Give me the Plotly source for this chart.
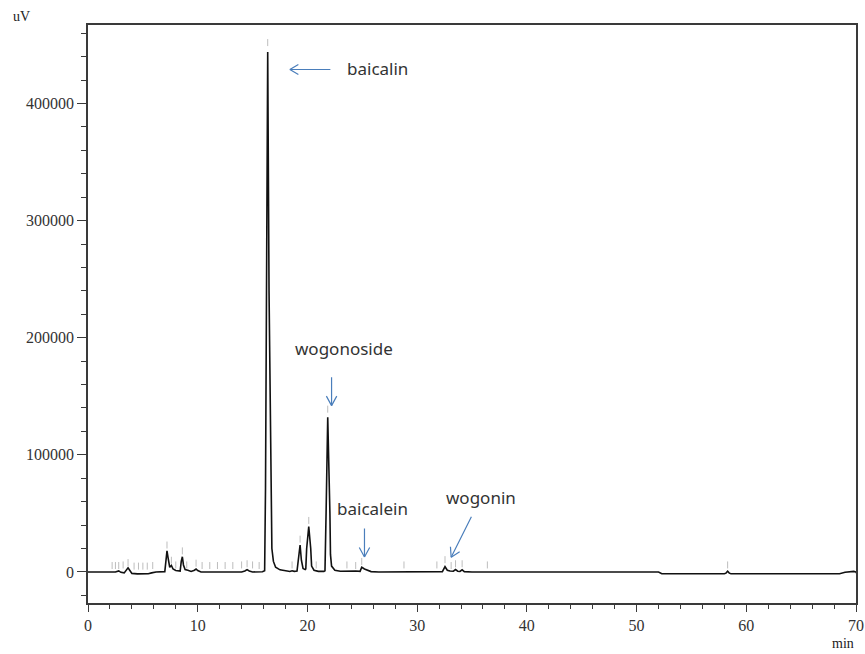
import plotly.graph_objects as go

# Chromatogram trace (retention time in min, detector signal in uV)
time_min = [
    0.0, 2.0, 2.3, 2.5, 2.8, 3.0, 3.3, 3.5, 3.65, 3.8, 4.0, 4.5, 5.0, 5.5, 5.8, 6.2,
    7.0, 7.1, 7.2, 7.3, 7.45, 7.6, 7.75, 8.0, 8.4, 8.5, 8.6, 8.7, 8.85, 9.1, 9.4,
    9.7, 9.85, 10.0, 10.3, 14.0, 14.3, 14.5, 14.7, 15.0, 15.5, 15.9, 16.1,
    16.18, 16.27, 16.38, 16.5, 16.66, 16.7, 16.76, 16.9, 17.1, 17.5, 18.0, 18.4,
    18.6, 18.8, 19.05, 19.2, 19.33, 19.45, 19.6, 19.8, 19.85, 19.93, 20.12, 20.3,
    20.38, 20.6, 21.0, 21.5, 21.6, 21.7, 21.85, 22.05, 22.1, 22.2, 22.5, 23.0,
    23.6, 24.0, 24.4, 24.8, 24.95, 25.2, 25.5, 25.8, 26.5, 32.3, 32.54, 32.75,
    33.0, 33.3, 33.5, 33.7, 33.9, 34.1, 34.3, 35.0, 52.0, 52.3, 58.0, 58.15,
    58.3, 58.45, 58.6, 68.5, 69.0, 69.5, 69.8, 70.0, 70.4,
]
signal_uv = [
    0, 0, 600, 0, 900, -300, -800, 1500, 3500, 1500, -1200, -1600, -1700, -1500, -800, 0,
    300, 9000, 18000, 12000, 4000, 5500, 2500, 1200, 800, 9000, 13000, 6000, 2000, 1500, 500,
    1500, 2500, 1200, 0, 0, 800, 2000, 900, 0, 300, 200, 1000,
    72000, 240000, 444000, 240000, 72000, 30000, 20000, 9000, 4000, 1800, 800, 400,
    1000, 500, 800, 12000, 23000, 10000, 3000, 2000, 2500, 20000, 38700, 20000,
    5000, 1500, 500, 500, 1000, 50000, 132000, 50000, 15000, 5000, 1500, 600,
    800, 300, 800, 500, 4000, 2500, 1500, 300, 0, 300, 4500, 1500,
    800, 600, 2000, 600, 400, 1800, 300, 0, 0, -1500, -1500, -1000,
    600, -1000, -1500, -1500, -300, 100, 500, 0, -8000,
]

# Integration peak marks drawn above detected peaks
mark_time = [2.2, 2.5, 2.8, 3.2, 3.65, 4.2, 4.6, 5.0, 5.4, 5.9, 7.2, 7.6, 8.0, 8.6, 9.0,
             9.85, 10.4, 11.1, 11.8, 12.5, 13.2, 14.0, 14.5, 15.0, 15.6, 16.38, 18.6,
             19.33, 20.12, 20.8, 21.85, 23.6, 24.4, 24.95, 28.8, 31.8, 32.54, 33.1,
             33.5, 34.1, 36.4, 58.3]
mark_level = [5500, 5500, 5500, 6000, 8000, 5000, 5000, 5000, 5000, 5500, 23000, 10000,
              6000, 18000, 6000, 7500, 5500, 5500, 5500, 5500, 5500, 6000, 7000, 6000,
              5500, 452000, 6000, 28000, 44000, 6000, 139000, 6000, 5500, 9000, 6000,
              6000, 10500, 5500, 7000, 7000, 6000, 6000]

# Compound labels: name, label centre (time, signal)
compound_names = ["baicalin", "wogonoside", "baicalein", "wogonin"]
label_time = [26.4, 23.3, 25.9, 35.8]
label_signal = [430000, 191000, 54600, 64000]

# Arrow tips (time, signal) and tail offsets in pixels
arrow_tip_time = [18.4, 22.2, 25.2, 33.1]
arrow_tip_signal = [429000, 142000, 12800, 12500]
arrow_tail_px = [(42, 0), (0, -30), (0, -30), (21, -42)]
arrow_arms_px = [((10, -6), (10, 6)), ((-6, -11), (6, -11)),
                 ((-6, -11), (6, -11)), ((10, -6.6), (-0.8, -12))]

x_ticks = [0, 10, 20, 30, 40, 50, 60, 70]
y_ticks = [0, 100000, 200000, 300000, 400000]

ARROW = "#4a7ebb"
AXIS = "#3a3a3a"
SERIF = "Liberation Serif, Times New Roman, serif"

fig = go.Figure()
fig.add_trace(go.Scatter(
    x=time_min, y=signal_uv, mode="lines",
    line=dict(color="#111111", width=1.6), hoverinfo="skip", showlegend=False,
))
fig.add_trace(go.Scatter(
    x=mark_time, y=mark_level, mode="markers",
    marker=dict(symbol="line-ns", size=5, line=dict(color="#bdbdbd", width=1)),
    hoverinfo="skip", showlegend=False,
))

annotations = []
for name, t, s in zip(compound_names, label_time, label_signal):
    annotations.append(dict(x=t, y=s, xref="x", yref="y", text=name, showarrow=False,
                            font=dict(family="Noto Sans, sans-serif", size=17, color="#333333")))
for t, s, tail, arms in zip(arrow_tip_time, arrow_tip_signal, arrow_tail_px, arrow_arms_px):
    for off in (tail,) + arms:
        annotations.append(dict(x=t, y=s, xref="x", yref="y", text="", showarrow=True,
                                ax=off[0], ay=off[1], arrowhead=0, arrowwidth=1.2,
                                arrowcolor=ARROW, standoff=0, startstandoff=0))

# Unit labels at the axis ends
annotations.append(dict(x=-0.087, y=1.0, xref="paper", yref="paper", text="uV",
                        xanchor="center", yanchor="middle", yshift=9, showarrow=False,
                        font=dict(family=SERIF, size=14, color="#222222")))
annotations.append(dict(x=0.983, y=0.0, xref="paper", yref="paper", text="min",
                        xanchor="center", yanchor="middle", yshift=-40, showarrow=False,
                        font=dict(family=SERIF, size=14, color="#222222")))

fig.update_layout(
    width=865, height=654,
    margin=dict(l=88, r=9, t=25, b=51),
    paper_bgcolor="white", plot_bgcolor="white",
    annotations=annotations,
    xaxis=dict(
        range=[0, 70], tickvals=x_ticks, ticks="outside", ticklen=7, tickwidth=1.2,
        tickcolor=AXIS, showline=True, linecolor=AXIS, linewidth=1.5, mirror=True,
        showgrid=False, zeroline=False, automargin=False,
        minor=dict(dtick=2, ticks="outside", ticklen=4, tickcolor=AXIS, showgrid=False),
        tickfont=dict(family=SERIF, size=16, color="#333333"),
    ),
    yaxis=dict(
        range=[-26500, 467000], tickvals=y_ticks, tickformat="d", ticks="outside",
        ticklen=9, tickwidth=1.2, tickcolor=AXIS, showline=True, linecolor=AXIS,
        linewidth=1.5, mirror=True, showgrid=False, zeroline=False, automargin=False,
        minor=dict(dtick=20000, ticks="outside", ticklen=5, tickcolor=AXIS, showgrid=False),
        tickfont=dict(family=SERIF, size=16, color="#333333"),
    ),
)

fig.write_html("out.html")
